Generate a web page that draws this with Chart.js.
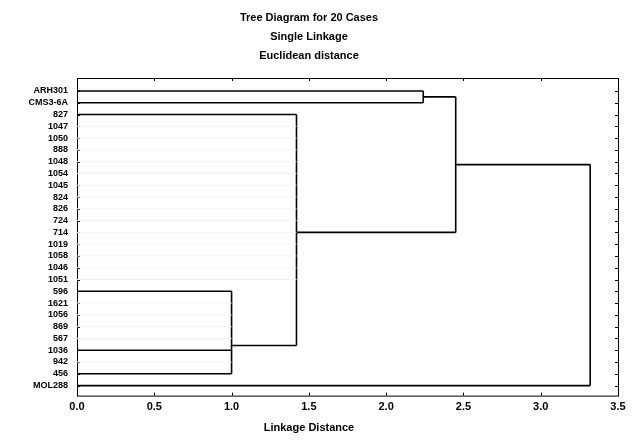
<!DOCTYPE html>
<html>
<head>
<meta charset="utf-8">
<script src="https://cdn.jsdelivr.net/npm/chart.js@4"></script>
<style>
  html, body { margin: 0; background: #fff; }
  #wrap { width: 639px; height: 442px; }
</style>
</head>
<body>
<div id="wrap"><canvas id="tree"></canvas></div>
<script>
// cases, top to bottom
const caseLabels = ['ARH301', 'CMS3-6A', '827', '1047', '1050', '888', '1048', '1054', '1045', '824',
                    '826', '724', '714', '1019', '1058', '1046', '1051', '596', '1621', '1056',
                    '869', '567', '1036', '942', '456', 'MOL288'];
// linkage distance at which each case joins its cluster
const leafDistance = [2.24, 2.24, 1.42, 1.42, 1.42, 1.42, 1.42, 1.42, 1.42, 1.42,
                      1.42, 1.42, 1.42, 1.42, 1.42, 1.42, 1.42, 1.0, 1.0, 1.0,
                      1.0, 1.0, 1.0, 1.0, 1.0, 3.32];
// clusters (merge distance, rows covered by the vertical link, row of link to parent, parent)
const nodeDistance = [1.0, 1.42, 2.24, 2.45, 3.32];
const nodeTopRow = [17, 2, 0, 0.5, 6.25];
const nodeBottomRow = [24, 21.6, 1, 12, 25];
const nodeRow = [21.6, 12, 0.5, 6.25, null];
const nodeParent = [1, 3, 3, 4, null];
const xTicks = [0, 0.5, 1, 1.5, 2, 2.5, 3, 3.5];

// rows whose leaf line has almost vanished in the picture
const faintRows = [3, 4, 5, 6, 7, 8, 9, 10, 11, 12, 13, 14, 15, 16, 18, 19, 20, 21, 23];

Chart.defaults.font.family = '"Liberation Sans", Arial, sans-serif';
Chart.defaults.color = '#000';

const datasets = [];
function addSegment(x1, y1, x2, y2, color, width) {
    datasets.push({
        data: [{ x: x1, y: y1 }, { x: x2, y: y2 }],
        showLine: true,
        borderColor: color,
        borderWidth: width,
        pointRadius: 0,
        fill: false
    });
}

// leaves
caseLabels.forEach((name, i) => {
    const faint = faintRows.includes(i);
    addSegment(0, i, leafDistance[i], i, faint ? '#f3f3f3' : '#000', faint ? 1 : 1.6);
});
// clusters
nodeDistance.forEach((d, k) => {
    addSegment(d, nodeTopRow[k], d, nodeBottomRow[k], '#000', 1.6);
    if (nodeParent[k] !== null) {
        addSegment(d, nodeRow[k], nodeDistance[nodeParent[k]], nodeRow[k], '#000', 1.6);
    }
});

// frame with small inward ticks
const framePlugin = {
    id: 'frame',
    beforeDatasetsDraw(chart) {
        const { ctx, chartArea: a, scales } = chart;
        ctx.save();
        ctx.strokeStyle = '#000';
        ctx.lineWidth = 1;
        ctx.strokeRect(a.left + 0.5, a.top + 0.5, a.right - a.left, a.bottom - a.top);
        ctx.beginPath();
        scales.y.ticks.forEach(t => {
            const py = Math.round(scales.y.getPixelForValue(t.value)) + 0.5;
            ctx.moveTo(a.left, py); ctx.lineTo(a.left + 3, py);
            ctx.moveTo(a.right - 3, py); ctx.lineTo(a.right, py);
        });
        scales.x.ticks.forEach(t => {
            const px = Math.round(scales.x.getPixelForValue(t.value)) + 0.5;
            ctx.moveTo(px, a.bottom); ctx.lineTo(px, a.bottom - 3);
            ctx.moveTo(px, a.top); ctx.lineTo(px, a.top + 3);
        });
        ctx.stroke();
        ctx.restore();
    }
};

new Chart(document.getElementById('tree'), {
    type: 'scatter',
    data: { datasets: datasets },
    plugins: [framePlugin],
    options: {
        responsive: true,
        maintainAspectRatio: false,
        animation: false,
        layout: { padding: { left: 0, right: 21, top: 0, bottom: 0 } },
        plugins: {
            legend: { display: false },
            tooltip: { enabled: false },
            title: {
                display: true,
                text: ['Tree Diagram for 20 Cases', 'Single Linkage', 'Euclidean distance'],
                font: { size: 11, weight: 'bold', lineHeight: '19px' },
                padding: { top: 8, bottom: 13 }
            },
            subtitle: {
                display: true,
                position: 'bottom',
                text: 'Linkage Distance',
                font: { size: 11, weight: 'bold' },
                padding: { top: 3, bottom: 7 }
            }
        },
        scales: {
            x: {
                type: 'linear',
                min: 0,
                max: 3.5,
                afterBuildTicks: s => { s.ticks = xTicks.map(v => ({ value: v })); },
                ticks: {
                    font: { size: 11, weight: 'bold' },
                    padding: 5,
                    callback: v => Number(v).toFixed(1)
                },
                grid: { display: false, drawTicks: false },
                border: { display: false }
            },
            y: {
                type: 'linear',
                reverse: true,
                min: -1.1,
                max: 25.85,
                afterBuildTicks: s => { s.ticks = caseLabels.map((_, i) => ({ value: i })); },
                afterFit: s => { s.width = 77; },
                ticks: {
                    autoSkip: false,
                    font: { size: 9, weight: 'bold' },
                    padding: 9,
                    callback: v => caseLabels[v]
                },
                grid: { display: false, drawTicks: false },
                border: { display: false }
            }
        }
    }
});
</script>
</body>
</html>
